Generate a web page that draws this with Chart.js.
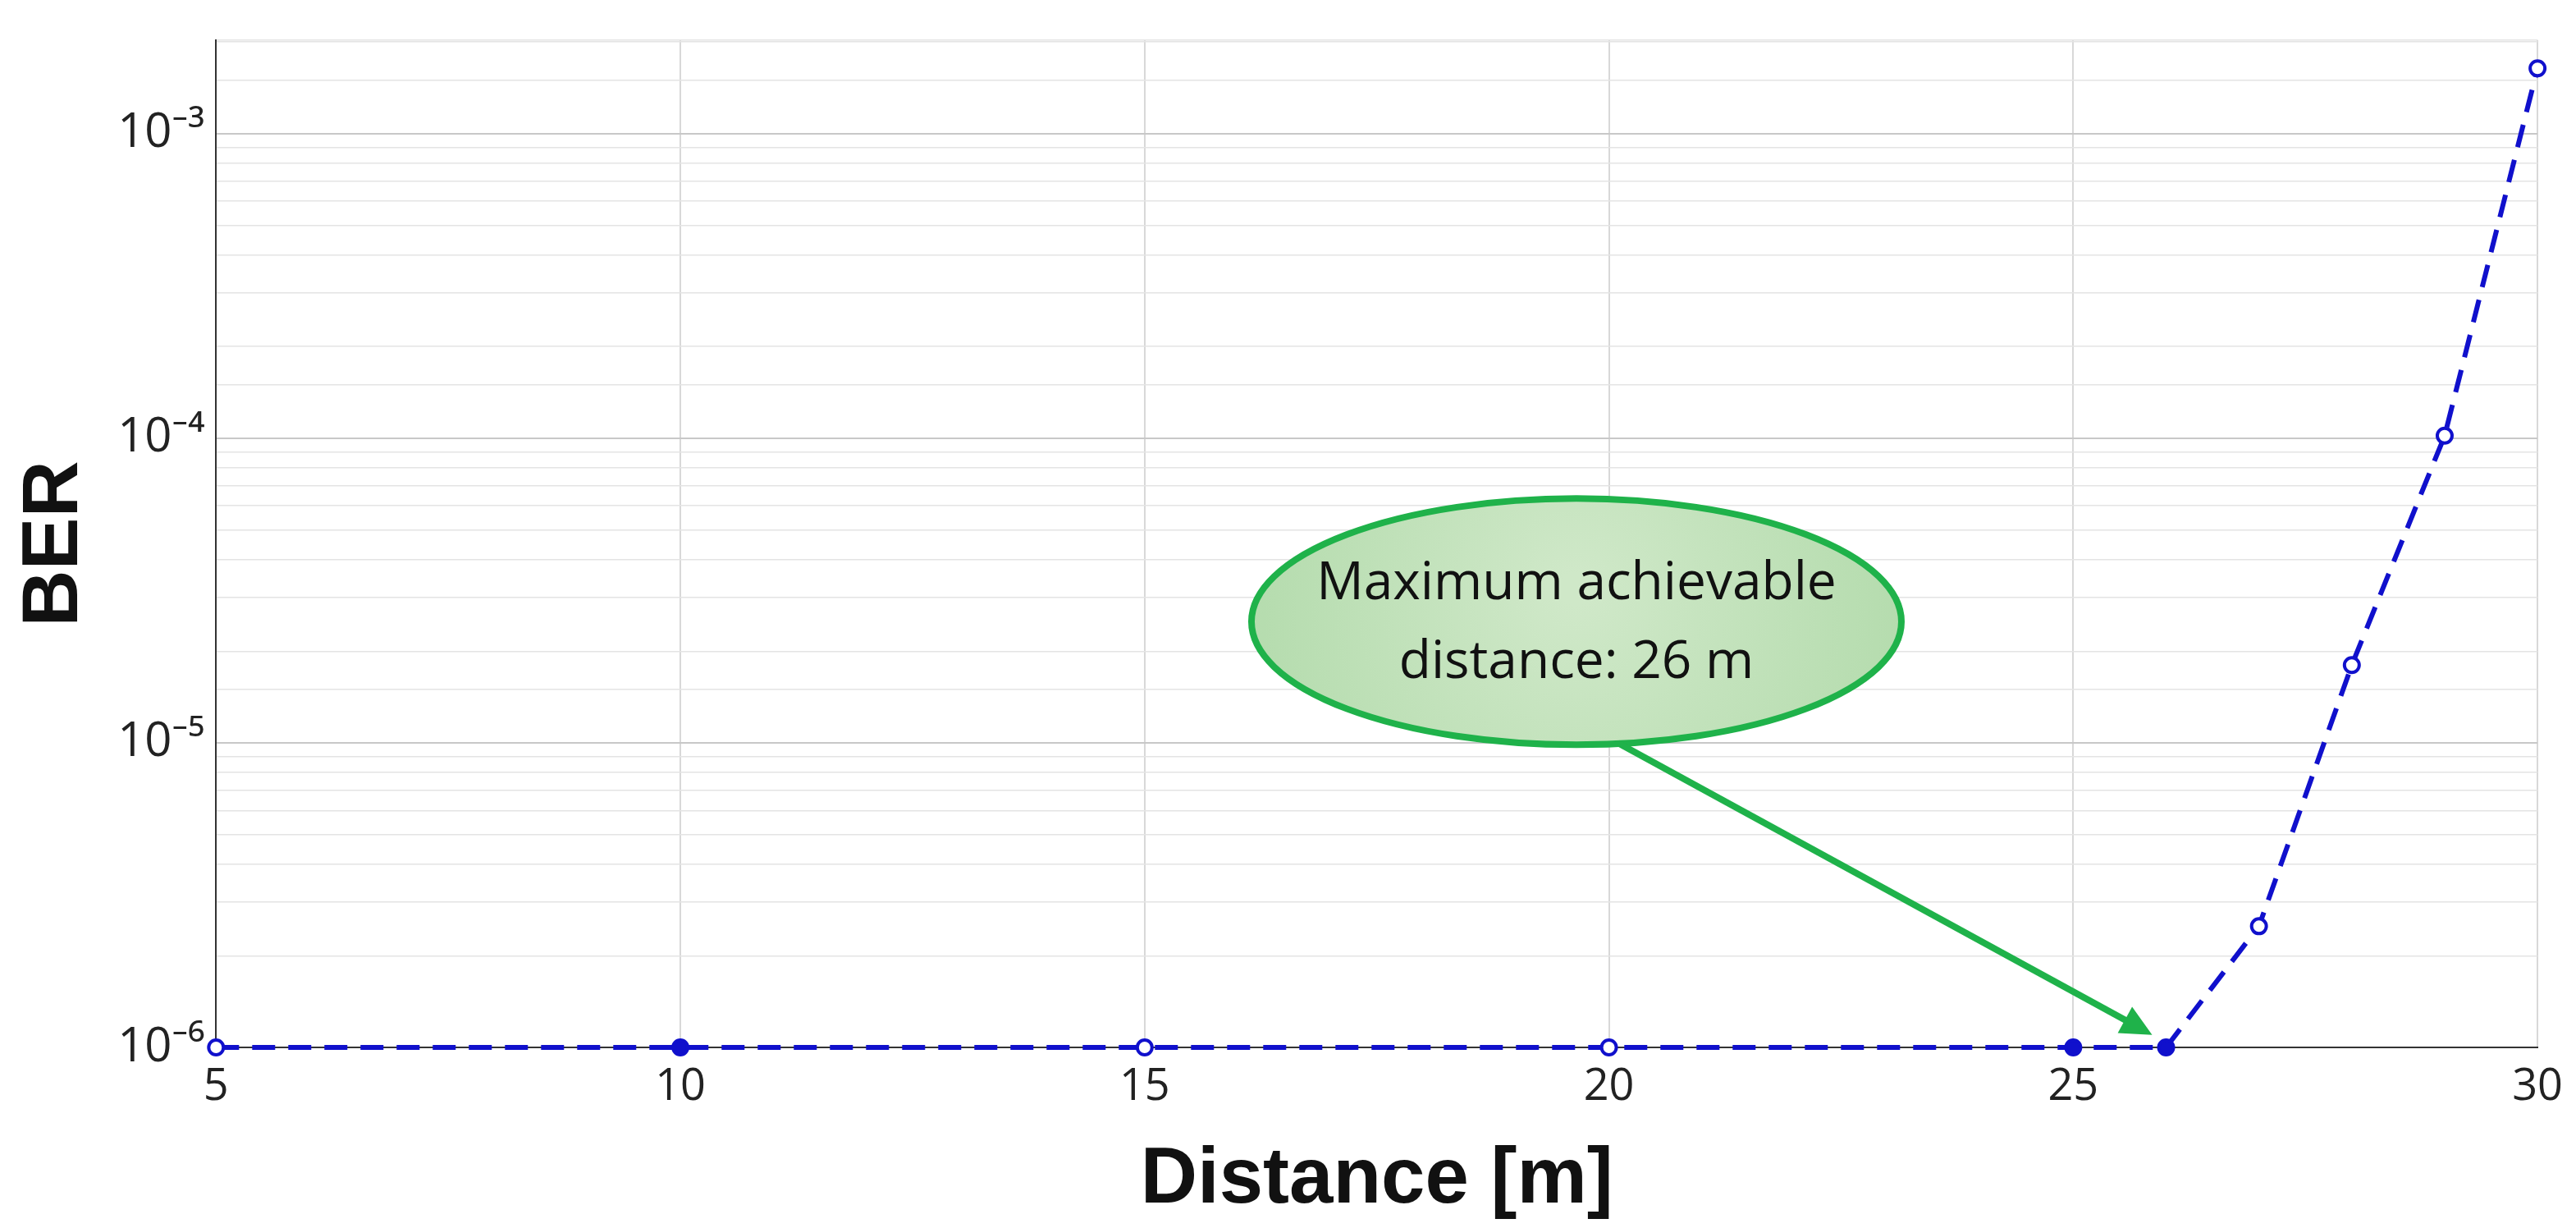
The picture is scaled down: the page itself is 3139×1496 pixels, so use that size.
<!DOCTYPE html>
<html><head><meta charset="utf-8">
<script src="https://cdn.jsdelivr.net/npm/chart.js@4/dist/chart.umd.min.js"></script>
<style>html,body{margin:0;padding:0;background:#fff}#w{width:3139px;height:1496px}</style>
</head><body><div id="w"><canvas id="c"></canvas></div>
<script>
const distances = [5,10,15,20,25,26,27,28,29,30];
const berValues = [1e-6,1e-6,1e-6,1e-6,1e-6,1e-6,2.5e-6,1.8e-5,1.02e-4,1.64e-3];
const filledPoints = [false,true,false,false,true,true,false,false,false,false];
const xTicks = [5,10,15,20,25,30];
const yMajorTicks = [1e-6,1e-5,1e-4,1e-3];
const sup = {'-':'\u207B','0':'\u2070','1':'\u00B9','2':'\u00B2','3':'\u00B3','4':'\u2074','5':'\u2075','6':'\u2076','7':'\u2077','8':'\u2078','9':'\u2079'};
function isMajor(v){return yMajorTicks.some(t=>Math.abs(v/t-1)<1e-6);}
const annot = {
  id:'annot',
  afterDatasetsDraw(ch){
    const ctx=ch.ctx, xs=ch.scales.x, ys=ch.scales.y;
    const cx=xs.getPixelForValue(19.65), cy=ys.getPixelForValue(2.5e-5);
    const rx=396, ry=150;
    ctx.save();
    ctx.beginPath();ctx.ellipse(cx,cy,rx,ry,0,0,Math.PI*2);
    const g=ctx.createRadialGradient(cx,cy-40,20,cx,cy,rx);
    g.addColorStop(0,'#cfe8c8');g.addColorStop(1,'#b5dcae');
    ctx.fillStyle=g;ctx.fill();ctx.lineWidth=8;ctx.strokeStyle='#1fb24a';ctx.stroke();
    ctx.fillStyle='#111';ctx.font='64px "Open Sans", "Noto Sans", sans-serif';ctx.textAlign='center';ctx.textBaseline='middle';
    ctx.fillText('Maximum achievable',cx,cy-46);ctx.fillText('distance: 26 m',cx,cy+50);
    const x0=xs.getPixelForValue(20.1), y0=cy+ry-2;
    const x1=xs.getPixelForValue(25.85), y1=ys.getPixelForValue(1.1e-6);
    const a=Math.atan2(y1-y0,x1-x0), hl=42;
    ctx.strokeStyle='#1fb24a';ctx.fillStyle='#1fb24a';ctx.lineWidth=8;
    ctx.beginPath();ctx.moveTo(x0,y0);ctx.lineTo(x1-hl*0.8*Math.cos(a),y1-hl*0.8*Math.sin(a));ctx.stroke();
    ctx.beginPath();ctx.moveTo(x1,y1);
    ctx.lineTo(x1-hl*Math.cos(a-0.45),y1-hl*Math.sin(a-0.45));
    ctx.lineTo(x1-hl*Math.cos(a+0.45),y1-hl*Math.sin(a+0.45));ctx.closePath();ctx.fill();
    ctx.restore();
  }
};
new Chart(document.getElementById('c'),{
  type:'line',
  data:{datasets:[{
    data:distances.map((d,i)=>({x:d,y:berValues[i]})),
    borderColor:'#1010cc',borderWidth:6,borderDash:[28,16],
    pointRadius:9,pointBorderWidth:4,pointBorderColor:'#1010cc',
    pointBackgroundColor:filledPoints.map(f=>f?'#1010cc':'#fff'),
    tension:0,clip:false
  }]},
  options:{
    responsive:true,maintainAspectRatio:false,animation:false,
    layout:{padding:{left:6,right:40,top:34,bottom:0}},
    plugins:{legend:{display:false},tooltip:{enabled:false}},
    scales:{
      x:{type:'linear',min:5,max:30,
        afterBuildTicks(s){s.ticks=xTicks.map(v=>({value:v}));},
        ticks:{font:{size:54,family:'"Open Sans", "Noto Sans", sans-serif'},color:'#222',padding:16},
        grid:{color:'#d8d8d8',lineWidth:2,drawTicks:false},border:{color:'#333',width:2},
        title:{display:true,text:'Distance [m]',font:{size:96,weight:'bold',family:'"Liberation Sans Narrow", "Liberation Sans", sans-serif'},color:'#111',padding:{top:8,bottom:0}}
      },
      y:{type:'logarithmic',min:1e-6,max:2.03e-3,
        ticks:{font:{size:58,family:'"Open Sans", "Noto Sans", sans-serif'},color:'#222',padding:14,autoSkip:false,
          callback(v){if(!isMajor(v))return '';const e=Math.round(Math.log10(v));return '10'+String(e).split('').map(c=>sup[c]).join('');}},
        grid:{drawTicks:false,color:c=>isMajor(c.tick.value)?'#c8c8c8':'#e4e4e4',lineWidth:c=>isMajor(c.tick.value)?2:1.5},
        border:{color:'#333',width:2},
        title:{display:true,text:'BER',font:{size:96,weight:'bold',family:'"Liberation Sans", Arial, sans-serif'},color:'#111',padding:{bottom:4}}
      }
    }
  },
  plugins:[annot]
});
</script></body></html>
